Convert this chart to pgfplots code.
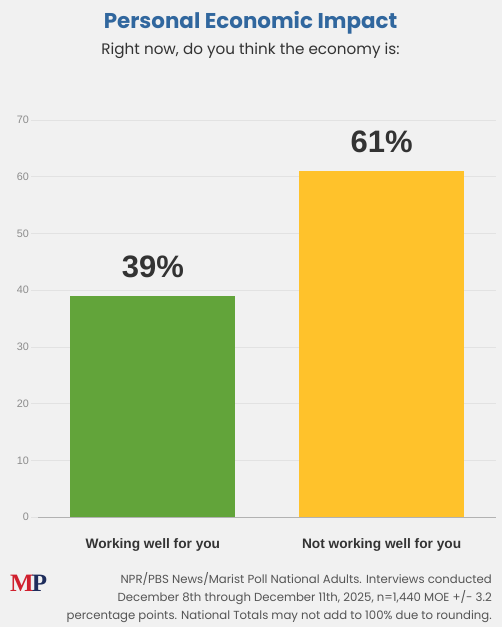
\documentclass[border=0pt]{standalone}
\usepackage{fontspec}
\setmainfont{Liberation Sans}
\newfontfamily\popp{Poppins}
\newfontfamily\tms{Liberation Serif}
\usepackage{pgfplots}
\pgfplotsset{compat=1.18}
\definecolor{bgc}{HTML}{F1F1F1}
\definecolor{titleblue}{HTML}{31679E}
\definecolor{barGreen}{HTML}{62A43A}
\definecolor{barYellow}{HTML}{FFC22B}
\definecolor{gridc}{HTML}{E2E2E2}
\definecolor{tickc}{HTML}{8C8C8C}
\definecolor{darktxt}{HTML}{333333}
\definecolor{foot}{HTML}{555555}
\definecolor{mpred}{HTML}{D0202E}
\definecolor{mpnavy}{HTML}{1F2D5C}
\begin{document}
\begin{tikzpicture}
\fill[bgc] (0pt,0pt) rectangle (502pt,627pt);
\path[use as bounding box] (0pt,0pt) rectangle (502pt,627pt);
\node[anchor=base, inner sep=0pt, text=titleblue] at (250.5pt,598.7pt) {\popp\bfseries\fontsize{21.4}{21.4}\selectfont Personal Economic Impact};
\node[anchor=base, inner sep=0pt, text=darktxt] at (250.5pt,572pt) {\popp\fontsize{15.2}{15.2}\selectfont Right now, do you think the economy is:};
\begin{axis}[
  at={(38.5pt,110pt)}, anchor=south west,
  scale only axis, width=457.5pt, height=397pt,
  xmin=-0.5, xmax=1.5, ymin=0, ymax=70,
  axis x line=bottom, axis y line=left,
  y axis line style={draw=none},
  x axis line style={draw=gray!60, -},
  ytick={0,10,...,70},
  xtick={0,1},
  xticklabels={Working well for you, Not working well for you},
  ymajorgrids, grid style={draw=gridc, line width=0.6pt},
  tick align=outside,
  ytick style={draw=gridc, line width=0.6pt},
  major tick length=7pt,
  xtick style={draw=none},
  /pgf/number format/assume math mode=true,
  yticklabel style={font=\fontsize{10.8}{10.8}\selectfont, text=tickc, inner sep=0pt, xshift=-2.5pt},
  xticklabel style={font=\bfseries\fontsize{13.7}{13.7}\selectfont, text=darktxt, anchor=base, inner sep=0pt, yshift=-25pt},
  ybar, bar width=165pt, bar shift=0pt,
  nodes near coords={\pgfmathprintnumber{\pgfplotspointmeta}\%},
  nodes near coords style={font=\bfseries\fontsize{31}{31}\selectfont, text=darktxt, anchor=south, inner sep=0pt, yshift=18pt},
  clip=false,
]
\addplot[fill=barGreen, draw=none] coordinates {(0,39)};
\addplot[fill=barYellow, draw=none] coordinates {(1,61)};
\end{axis}
\node[anchor=base west, inner sep=0pt] at (10pt,35pt) {\tms\bfseries\fontsize{25}{25}\selectfont\textcolor{mpred}{M}\kern-2pt\textcolor{mpnavy}{P}};
\begin{scope}[every node/.style={anchor=base east, inner sep=0pt, text=foot, font=\popp\fontsize{11.7}{11.7}\selectfont}]
\node at (492pt,43pt) {NPR/PBS News/Marist Poll National Adults. Interviews conducted};
\node at (492pt,25.3pt) {December 8th through December 11th, 2025, n=1,440 MOE +/- 3.2};
\node at (492pt,8pt) {percentage points. National Totals may not add to 100\% due to rounding.};
\end{scope}
\end{tikzpicture}
\end{document}
